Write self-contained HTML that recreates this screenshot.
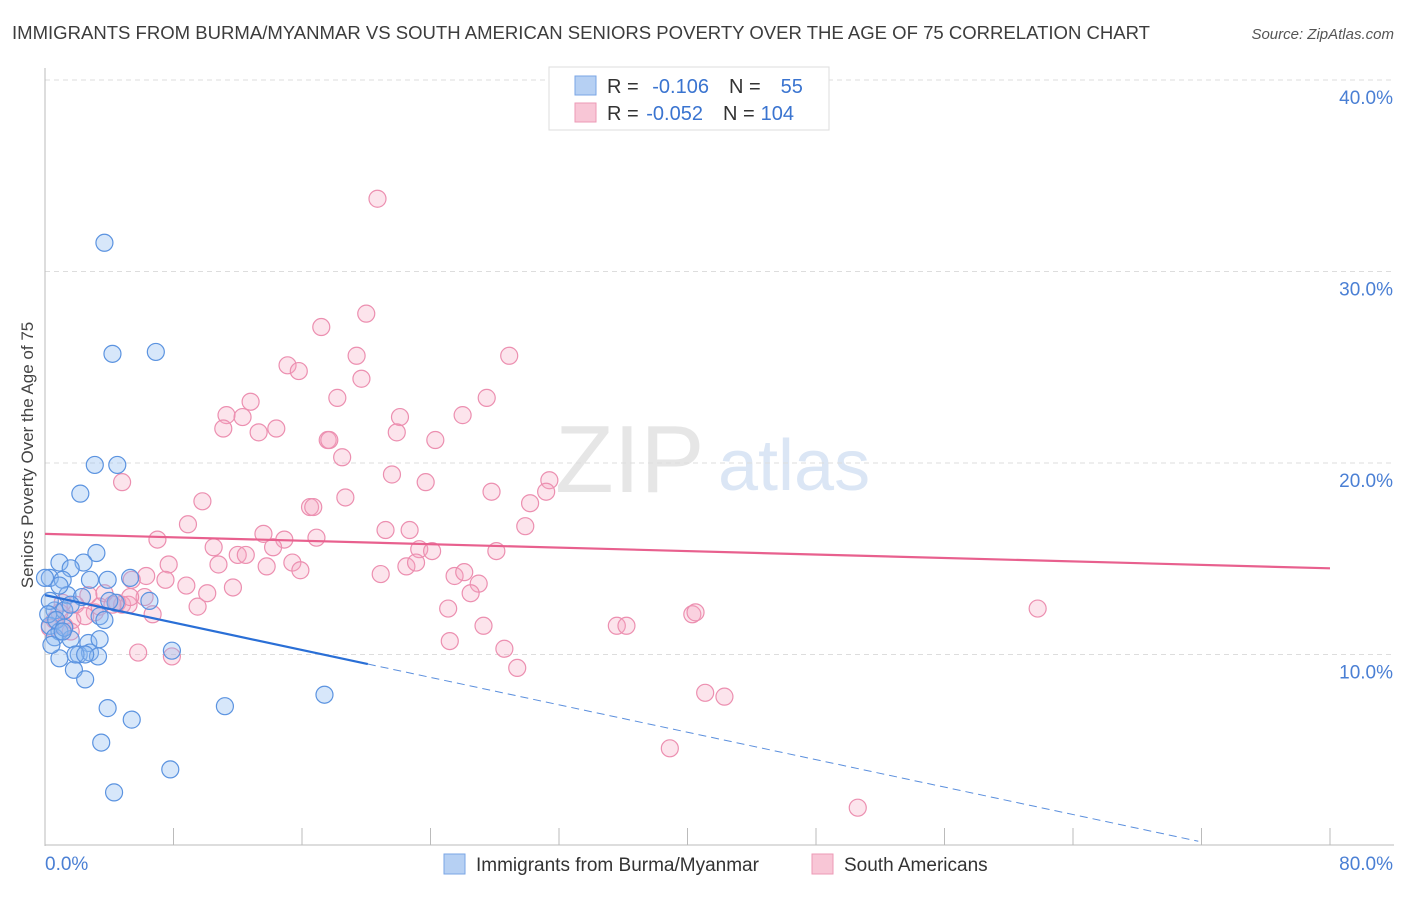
<!DOCTYPE html>
<html><head><meta charset="utf-8"><style>
body{margin:0;background:#fff;font-family:"Liberation Sans",sans-serif;}
svg text{font-family:"Liberation Sans",sans-serif;}
</style></head><body>
<svg id="chart" width="1406" height="892" xmlns="http://www.w3.org/2000/svg">
<text x="12" y="39" font-size="18" fill="#3c3c3c" textLength="1138" lengthAdjust="spacingAndGlyphs">IMMIGRANTS FROM BURMA/MYANMAR VS SOUTH AMERICAN SENIORS POVERTY OVER THE AGE OF 75 CORRELATION CHART</text>
<text x="1394" y="39" font-size="15" fill="#555" text-anchor="end" font-style="italic">Source: ZipAtlas.com</text>
<text transform="translate(33,455) rotate(-90)" font-size="17" fill="#444" text-anchor="middle">Seniors Poverty Over the Age of 75</text>
<text x="555" y="492" font-size="96" fill="#e6e6e6" font-family="Liberation Serif">ZIP</text>
<text x="718" y="490" font-size="72" fill="#dbe6f5">atlas</text>
<g id="grid"></g>
<g id="pts"></g>
<g id="lines"></g>
<g>
<rect x="549" y="67" width="280" height="63" fill="#fff" stroke="#ddd"/>
<rect x="575" y="76" width="21" height="19" fill="#b6d0f3" stroke="#7aa6e6"/>
<rect x="575" y="103" width="21" height="19" fill="#f8c6d6" stroke="#ec9ab6"/>
<text x="607" y="93" font-size="20" fill="#333">R = <tspan fill="#3a74d0" dx="8">-0.106</tspan><tspan dx="20" fill="#333">N =</tspan><tspan dx="20" fill="#3a74d0">55</tspan></text>
<text x="607" y="120" font-size="20" fill="#333">R = <tspan fill="#3a74d0" dx="2">-0.052</tspan><tspan dx="20" fill="#333">N =</tspan><tspan dx="6" fill="#3a74d0">104</tspan></text>
</g>
<g>
<rect x="444" y="854" width="21" height="20" fill="#b6d0f3" stroke="#7aa6e6"/>
<text x="476" y="871" font-size="19" fill="#333">Immigrants from Burma/Myanmar</text>
<rect x="812" y="854" width="21" height="20" fill="#f8c6d6" stroke="#ec9ab6"/>
<text x="844" y="871" font-size="19" fill="#333">South Americans</text>
</g>
</svg>
<script>
const blueX=[3.7,4.2,6.9,3.1,4.5,2.2,3.2,0.9,2.4,1.6,0.3,1.1,2.8,3.9,5.3,1.4,2.3,4.4,6.5,3.4,3.7,0.6,1.2,0.3,0.9,1.6,0.6,2.7,3.4,0.9,2.1,2.8,3.3,1.8,2.5,3.9,5.4,3.5,11.2,17.4,7.9,7.8,4.3,0.3,0.2,0.7,1.2,1.9,2.5,0.9,0,0.4,1.1,4.0,1.6];
const blueY=[31.5,25.7,25.8,19.9,19.9,18.4,15.3,14.8,14.8,14.5,14.0,13.9,13.9,13.9,14.0,13.1,13.0,12.7,12.8,12.0,11.8,12.3,12.3,11.5,11.2,10.8,10.9,10.6,10.8,9.8,10.0,10.1,9.9,9.2,8.7,7.2,6.6,5.4,7.3,7.9,10.2,4.0,2.8,12.8,12.1,11.8,11.4,10.0,10.0,13.6,14.0,10.5,11.2,12.8,12.6];
const pinkX=[20.7,17.2,20.0,19.4,28.9,15.1,15.8,19.7,18.2,27.5,12.8,11.3,12.3,26.0,22.1,11.1,14.4,13.3,21.9,17.6,17.7,24.3,18.5,21.6,4.8,31.4,23.7,27.8,18.7,9.8,16.5,16.7,30.2,31.2,8.9,13.6,29.9,21.2,22.7,7.0,16.9,14.9,10.5,14.2,12.0,12.5,23.3,24.1,28.1,13.8,15.4,10.8,7.7,22.5,15.9,23.1,6.3,7.5,5.4,20.9,25.5,26.1,27.0,8.8,11.7,10.1,26.5,9.5,6.2,4.8,2.7,3.7,4.5,5.2,1.9,0.9,3.1,1.7,6.7,0.6,1.2,0.3,25.1,35.6,36.2,40.3,40.5,61.8,27.3,25.2,28.6,29.4,5.8,7.9,41.1,42.3,38.9,50.6,3.4,2.5,1.1,1.6,4.2,5.3];
const pinkY=[33.8,27.1,27.8,25.6,25.6,25.1,24.8,24.4,23.4,23.4,23.2,22.5,22.4,22.5,22.4,21.8,21.8,21.6,21.6,21.2,21.2,21.2,20.3,19.4,19.0,19.1,19.0,18.5,18.2,18.0,17.7,17.7,17.9,18.5,16.8,16.3,16.7,16.5,16.5,16.0,16.1,16.0,15.6,15.6,15.2,15.2,15.5,15.4,15.4,14.6,14.8,14.7,14.7,14.6,14.4,14.8,14.1,13.9,13.9,14.2,14.1,14.3,13.7,13.6,13.5,13.2,13.2,12.5,13.0,12.6,13.1,13.2,12.7,12.6,12.6,12.2,12.2,11.8,12.1,11.8,11.5,11.4,12.4,11.5,11.5,12.1,12.2,12.4,11.5,10.7,10.3,9.3,10.1,9.9,8.0,7.8,5.1,2.0,12.5,12.0,12.7,11.2,12.6,13.0];
const yTicks=[10,20,30,40];
const blueTrend=[13.1,-0.179,20.1,71.8];
const pinkTrend=[16.3,14.5];
const NS="http://www.w3.org/2000/svg";
const sx=v=>45+v*1285/80, sy=v=>846-v*19.15;
function mk(t,a,p){const e=document.createElementNS(NS,t);for(const k in a)e.setAttribute(k,a[k]);p.appendChild(e);return e;}
const grid=document.getElementById('grid');
yTicks.forEach(t=>{
 const l=mk('line',{x1:45,x2:1394,y1:sy(t),y2:sy(t),stroke:'#ddd','stroke-dasharray':'5,4'},grid);
 
 
 const tx=mk('text',{x:1393,y:sy(t)+24,'font-size':19,fill:'#4a7fd4','text-anchor':'end'},grid);
 tx.textContent=t.toFixed(1)+'%';
 
 
});
mk('line',{x1:45,x2:45,y1:68,y2:846,stroke:'#bbb'},grid);
mk('line',{x1:45,x2:1394,y1:845,y2:845,stroke:'#bbb'},grid);
for(let i=1;i<=10;i++){const x=45+i*128.5;mk('line',{x1:x,x2:x,y1:828,y2:845,stroke:'#bbb'},grid);}
const x0=mk('text',{x:45,y:870,'font-size':19,fill:'#4a7fd4'},grid);x0.textContent='0.0%';


const x1=mk('text',{x:1393,y:870,'font-size':19,fill:'#4a7fd4','text-anchor':'end'},grid);x1.textContent='80.0%';


const pts=document.getElementById('pts');
pinkX.forEach((x,i)=>{const c=mk('circle',{cx:sx(x),cy:sy(pinkY[i]),r:8.5,fill:'rgba(245,165,192,0.3)',stroke:'#ec8fb0','stroke-width':1.2},pts);
 
 });
blueX.forEach((x,i)=>{const c=mk('circle',{cx:sx(x),cy:sy(blueY[i]),r:8.5,fill:'rgba(140,185,240,0.35)',stroke:'#5b93e0','stroke-width':1.2},pts);
 
 });
const lines=document.getElementById('lines');
const by=x=>blueTrend[0]+blueTrend[1]*x;
const pl=mk('line',{x1:sx(0),y1:sy(pinkTrend[0]),x2:sx(80),y2:sy(pinkTrend[1]),stroke:'#e8608e','stroke-width':2.2},lines);


const bl=mk('line',{x1:sx(0),y1:sy(by(0)),x2:sx(blueTrend[2]),y2:sy(by(blueTrend[2])),stroke:'#2a6fd6','stroke-width':2.2},lines);


const bd=mk('line',{x1:sx(blueTrend[2]),y1:sy(by(blueTrend[2])),x2:sx(blueTrend[3]),y2:sy(by(blueTrend[3])),stroke:'#5b8fdd','stroke-width':1,'stroke-dasharray':'8,5'},lines);


</script>
</body></html>
